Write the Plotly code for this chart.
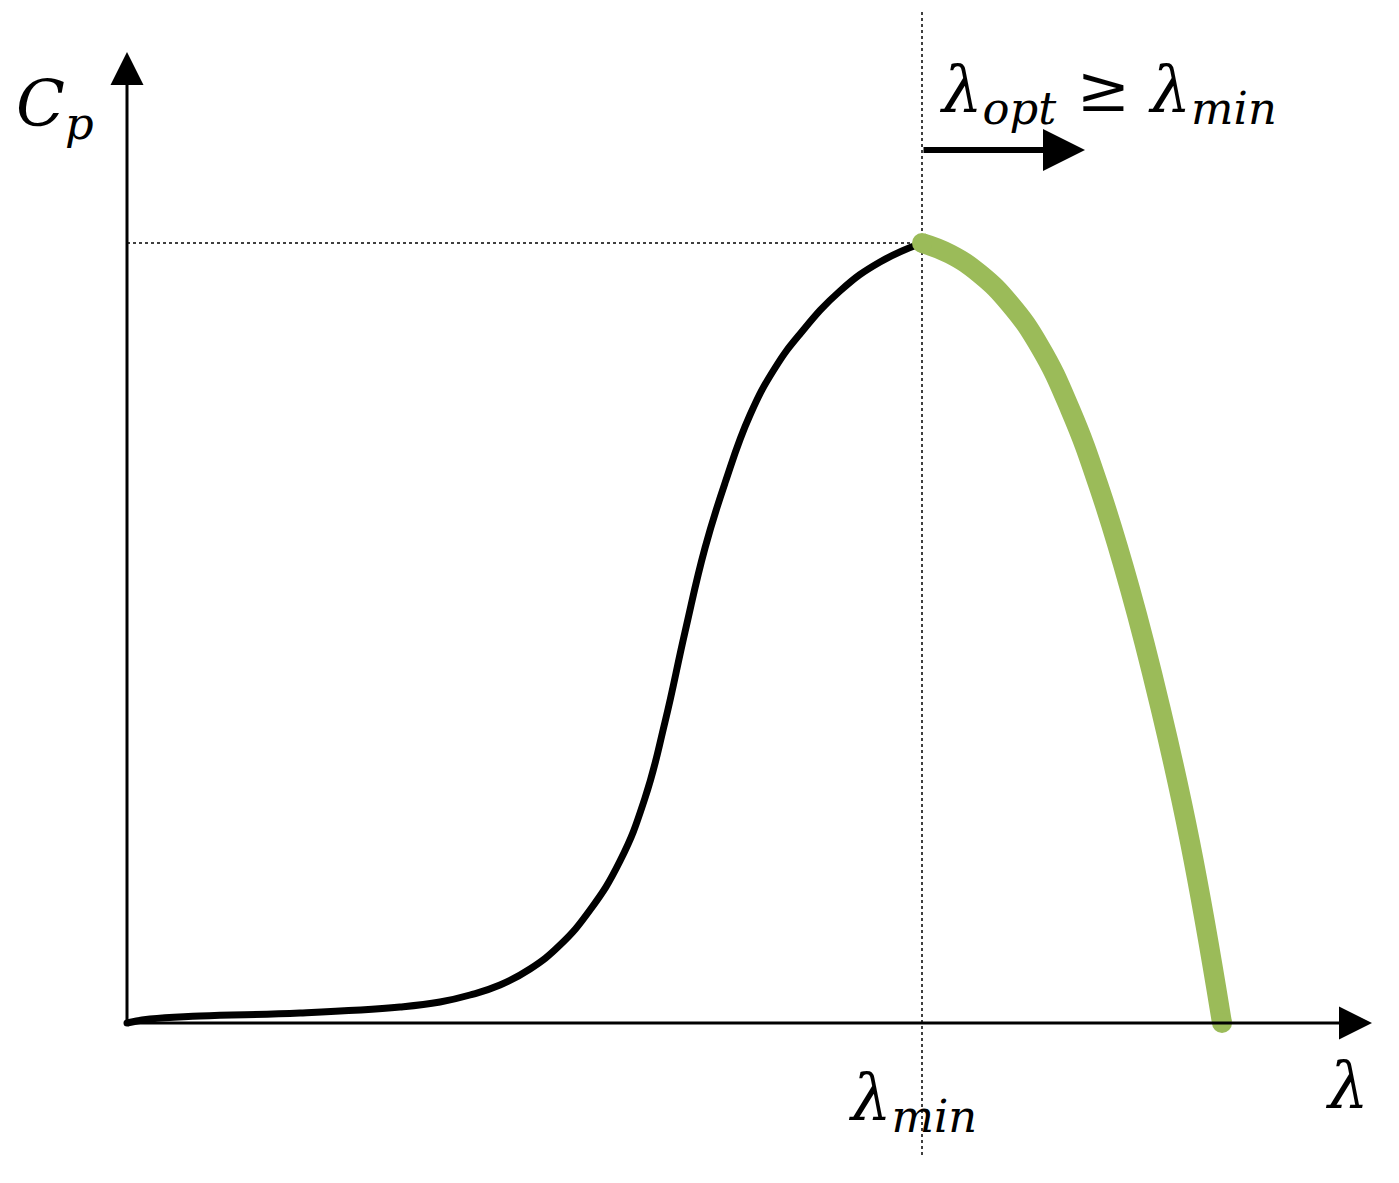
import plotly.graph_objects as go

# Cp(lambda) curve, rising part (black) up to the optimum
lam_black = [0.00, 0.23, 0.73, 1.73, 2.73, 3.13, 3.43, 3.73, 4.03, 4.33, 4.63, 4.93,
             5.18, 5.38, 5.58, 5.78, 5.98, 6.23, 6.48, 6.73, 7.13, 7.53, 7.95]
cp_black = [0.000, 0.004, 0.007, 0.010, 0.016, 0.021, 0.028, 0.038, 0.054, 0.078, 0.113, 0.162,
            0.225, 0.301, 0.391, 0.475, 0.540, 0.608, 0.655, 0.689, 0.732, 0.761, 0.780]

# falling part (green), lambda >= lambda_min
lam_green = [7.95, 8.23, 8.53, 8.83, 9.13, 9.43, 9.73, 10.03, 10.33, 10.63, 10.95]
cp_green = [0.780, 0.769, 0.749, 0.719, 0.676, 0.614, 0.533, 0.434, 0.317, 0.181, 0.000]

lam_min = 7.95
cp_max = 0.780

FONT = "DejaVu Serif"
GREEN = "#9bbb59"

fig = go.Figure()

# guide lines
fig.add_trace(go.Scatter(x=[0, lam_min], y=[cp_max, cp_max], mode="lines",
                         line=dict(color="black", width=1.5, dash="dot"), hoverinfo="skip"))
fig.add_trace(go.Scatter(x=[lam_min, lam_min], y=[-0.132, 1.011], mode="lines",
                         line=dict(color="black", width=1.5, dash="dot"), hoverinfo="skip"))

fig.add_trace(go.Scatter(x=lam_black, y=cp_black, mode="lines",
                         line=dict(color="black", width=7, shape="spline", smoothing=1.3),
                         hoverinfo="skip"))
fig.add_trace(go.Scatter(x=lam_green, y=cp_green, mode="lines",
                         line=dict(color=GREEN, width=20, shape="spline", smoothing=1.3),
                         hoverinfo="skip"))
# round line ends
fig.add_trace(go.Scatter(x=[lam_black[0]], y=[cp_black[0]], mode="markers",
                         marker=dict(color="black", size=7), hoverinfo="skip"))
fig.add_trace(go.Scatter(x=[lam_green[0], lam_green[-1]], y=[cp_green[0], cp_green[-1]],
                         mode="markers", marker=dict(color=GREEN, size=20), hoverinfo="skip"))

# axes with arrowheads
arrow = dict(showarrow=True, arrowhead=2, arrowcolor="black", text="",
             xref="x", yref="y", axref="x", ayref="y")
fig.add_annotation(x=12.45, y=0, ax=0, ay=0, arrowwidth=3, arrowsize=2.2, **arrow)
fig.add_annotation(x=0, y=0.971, ax=0, ay=0, arrowwidth=3, arrowsize=2.2, **arrow)
fig.add_annotation(x=9.58, y=0.873, ax=lam_min, ay=0.873, arrowwidth=6, arrowsize=1.4, **arrow)

labels = [
    ("<i>C</i><sub><i>p</i></sub>", -0.72, 0.915),
    ("<i>λ</i><sub><i>opt</i></sub> ≥ <i>λ</i><sub><i>min</i></sub>", 9.81, 0.930),
    ("<i>λ</i><sub><i>min</i></sub>", 7.85, -0.078),
    ("<i>λ</i>", 12.2, -0.062),
]
for text, x, y in labels:
    fig.add_annotation(x=x, y=y, text=text, showarrow=False,
                       font=dict(family=FONT, size=64, color="black"))

# page body adds an 8px margin, so ranges are shifted to keep the reference position
fig.update_xaxes(visible=False, range=[-1.19, 12.80])
fig.update_yaxes(visible=False, range=[-0.168, 1.015])
fig.update_layout(width=1399, height=1183, margin=dict(l=0, r=0, t=0, b=0),
                  plot_bgcolor="white", paper_bgcolor="white", showlegend=False)

fig.write_html("out.html")
